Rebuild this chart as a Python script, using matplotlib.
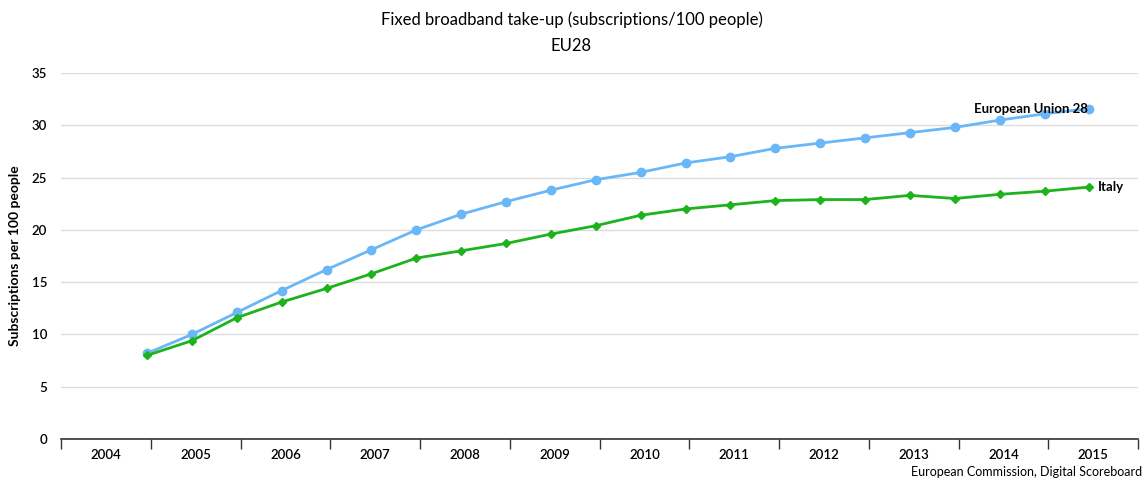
import numpy as np
import matplotlib
matplotlib.use('Agg')
import matplotlib.pyplot as plt
from matplotlib.ticker import FixedLocator, NullFormatter

# half-yearly observations: Dec 2004, Jun 2005, Dec 2005, ... Jun 2015
years = [2004] + [y for y in range(2005, 2016) for _ in (0, 1)][:-1]
months = [12] + [6, 12] * 10 + [6]
eu28 = [8.2, 10.0, 12.1, 14.2, 16.2, 18.1, 20.0, 21.5, 22.7, 23.8, 24.8,
        25.5, 26.4, 27.0, 27.8, 28.3, 28.8, 29.3, 29.8, 30.5, 31.1, 31.6]
italy = [8.0, 9.4, 11.6, 13.1, 14.4, 15.8, 17.3, 18.0, 18.7, 19.6, 20.4,
         21.4, 22.0, 22.4, 22.8, 22.9, 22.9, 23.3, 23.0, 23.4, 23.7, 24.1]
year_labels = [str(y) for y in range(2004, 2016)]

x = np.array(years) + (np.array(months) - 0.5) / 12.0

plt.rcParams['font.family'] = ['Lato', 'DejaVu Sans']

fig = plt.figure(figsize=(11.43, 4.79), dpi=100)
ax = fig.add_axes([0.0534, 0.0835, 0.9423, 0.764])

ax.plot(x, eu28, '-o', color='#6ab7f7', linewidth=2, markersize=6, zorder=3)
ax.plot(x, italy, '-D', color='#1db31d', linewidth=2, markersize=4.5, zorder=3)

ax.set_xlim(2004, 2016)
ax.set_ylim(0, 35)
ax.set_yticks(range(0, 36, 5))
ax.grid(axis='y', color='#dcdcdc', linewidth=1)
ax.set_axisbelow(True)

# year boundaries as ticks, labels centred in each band
ax.xaxis.set_major_locator(FixedLocator(range(2004, 2017)))
ax.xaxis.set_major_formatter(NullFormatter())
ax.xaxis.set_minor_locator(FixedLocator([y + 0.5 for y in range(2004, 2016)]))
ax.set_xticklabels(year_labels, minor=True)
ax.tick_params(axis='x', which='major', direction='out', length=7, width=1, color='#333333')
ax.tick_params(axis='x', which='minor', length=0, pad=7, labelsize=9.5)
ax.tick_params(axis='y', length=0, pad=10, labelsize=9.5)
for lab in ax.get_xticklabels(minor=True) + ax.get_yticklabels():
    lab.set_fontweight('semibold')

for side in ['top', 'right', 'left']:
    ax.spines[side].set_visible(False)
ax.spines['bottom'].set_color('#333333')
ax.spines['bottom'].set_linewidth(1.2)

ax.set_ylabel('Subscriptions per 100 people', fontsize=10, fontweight='bold', labelpad=8)

ax.annotate('European Union 28', (x[-1], eu28[-1]), xytext=(-1, 0), textcoords='offset points',
            ha='right', va='center', fontsize=9.5, fontweight='bold', zorder=4)
ax.annotate('Italy', (x[-1], italy[-1]), xytext=(6, 0), textcoords='offset points',
            ha='left', va='center', fontsize=9.5, fontweight='bold')

fig.text(0.5, 0.958, 'Fixed broadband take-up (subscriptions/100 people)', ha='center', va='center', fontsize=12)
fig.text(0.5, 0.905, 'EU28', ha='center', va='center', fontsize=12)
fig.text(0.999, 0.015, 'European Commission, Digital Scoreboard', ha='right', va='center', fontsize=9)

fig.savefig('out.png', dpi=100)
